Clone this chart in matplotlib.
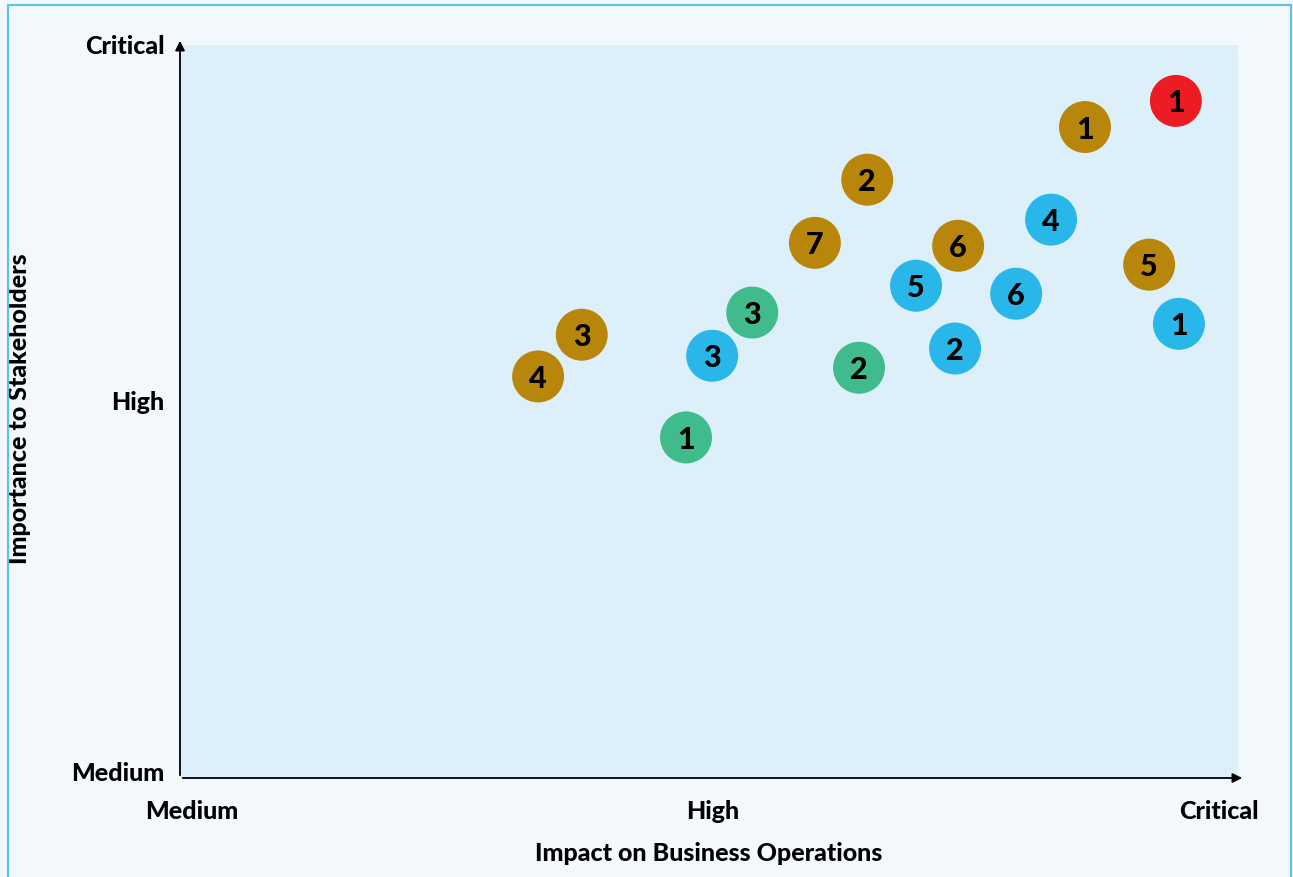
import matplotlib
matplotlib.use("Agg")
import matplotlib.pyplot as plt
from matplotlib.patches import Rectangle

# ---- data ----
xtick_labels = ["Medium", "High", "Critical"]
ytick_labels = ["Medium", "High", "Critical"]
xtick_pos = [0, 1.015, 2]
ytick_pos = [0, 1.02, 2]

red_x = [1.916]
red_y = [1.846]
red_lbl = ["1"]

gold_x = [1.739, 1.315, 1.213, 1.492, 1.864, 0.759, 0.674]
gold_y = [1.774, 1.629, 1.455, 1.447, 1.395, 1.202, 1.087]
gold_lbl = ["1", "2", "7", "6", "5", "3", "4"]

blue_x = [1.673, 1.410, 1.605, 1.922, 1.013, 1.486]
blue_y = [1.519, 1.337, 1.315, 1.232, 1.144, 1.164]
blue_lbl = ["4", "5", "6", "1", "3", "2"]

green_x = [1.091, 1.299, 0.962]
green_y = [1.263, 1.111, 0.919]
green_lbl = ["3", "2", "1"]

series = [
    (green_x, green_y, green_lbl, "#3FBB8C"),
    (blue_x, blue_y, blue_lbl, "#29B6E9"),
    (gold_x, gold_y, gold_lbl, "#B8860B"),
    (red_x, red_y, red_lbl, "#ED1C24"),
]

FONT = ["Lato", "DejaVu Sans"]
plt.rcParams["font.family"] = FONT
WEIGHT = "black"

W, H = 1293, 877
fig = plt.figure(figsize=(W / 100, H / 100), dpi=100)
fig.patch.set_facecolor("#F3F8FD")

# outer border
fig.add_artist(Rectangle((8 / W, -0.01), (1291 - 8) / W, (H - 5) / H + 0.01,
                         transform=fig.transFigure, fill=False,
                         edgecolor="#5BC2EC", linewidth=1.5))

L, R, T, B = 180, 1238, 45, 778
ax = fig.add_axes([L / W, 1 - B / H, (R - L) / W, (B - T) / H])
ax.set_facecolor("#DDEFF9")
ax.set_xlim(-0.0234, 2.037)
ax.set_ylim(-0.019, 2.0)

for s in ax.spines.values():
    s.set_visible(False)

for xs, ys, lbls, col in series:
    ax.scatter(xs, ys, s=1400, color=col, edgecolors="none", zorder=3)
    for x, y, t in zip(xs, ys, lbls):
        ax.text(x, y, t, ha="center", va="center_baseline", fontsize=22,
                fontweight=WEIGHT, color="black", zorder=4)

# axis arrows
ax.annotate("", xy=(1.0066, 0), xytext=(0, 0), xycoords="axes fraction",
            arrowprops=dict(arrowstyle="-|>", color="black", lw=1.3,
                            mutation_scale=14), zorder=5, annotation_clip=False)
ax.annotate("", xy=(0, 1.0095), xytext=(0, 0), xycoords="axes fraction",
            arrowprops=dict(arrowstyle="-|>", color="black", lw=1.3,
                            mutation_scale=14), zorder=5, annotation_clip=False)

ax.set_xticks(xtick_pos)
ax.set_xticklabels(xtick_labels, fontsize=18, fontweight=WEIGHT)
ax.set_yticks(ytick_pos)
ax.set_yticklabels(ytick_labels, fontsize=18, fontweight=WEIGHT)
ax.tick_params(axis="x", length=0, pad=16)
ax.tick_params(axis="y", length=0, pad=11)

ax.set_xlabel("Impact on Business Operations", fontsize=18, fontweight=WEIGHT)
ax.xaxis.set_label_coords(0.5, -(842 - B) / (B - T))
ax.xaxis.label.set_va("top")
ax.set_ylabel("Importance to Stakeholders", fontsize=18, fontweight=WEIGHT)
ax.yaxis.set_label_coords(-(L - 31) / (R - L), (B - 409) / (B - T))

fig.savefig("out.png", dpi=100, facecolor=fig.get_facecolor())
